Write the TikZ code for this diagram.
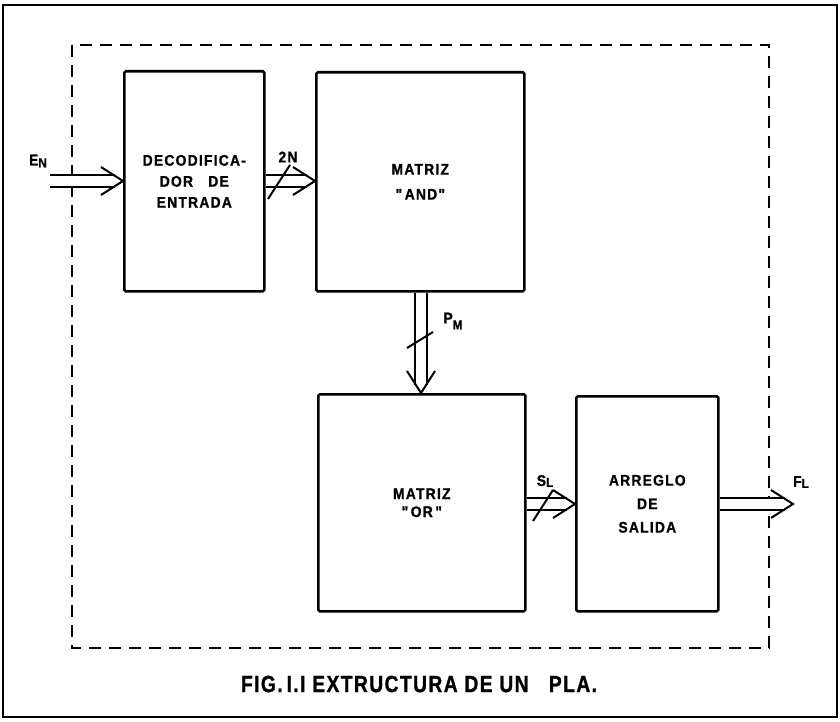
\documentclass[tikz,border=0pt]{standalone}
\usepackage{fontspec}
\setmainfont{Liberation Sans}
\newfontfamily\lblfam{Liberation Sans Bold}[LetterSpace=8,FakeStretch=0.9,FakeBold=1]
\newfontfamily\capfam{Liberation Sans Bold}[LetterSpace=6,FakeStretch=0.82,FakeBold=1]
\usetikzlibrary{calc}
\begin{document}
\begin{tikzpicture}[x=1pt,y=-1pt,
  blk/.style={draw, line width=2.6pt, rounded corners=1.5pt, align=center,
    inner sep=0pt, anchor=north west, font=\lblfam\fontsize{15.4}{21}\selectfont},
  bus/.style={double, double distance=9.6pt, line width=2pt, shorten >=8pt},
  tip/.style={line width=2pt, line join=miter},
  slash/.style={line width=2pt},
  tag/.style={font=\lblfam\fontsize{15.4}{16}\selectfont, inner sep=0pt}]
\useasboundingbox (0,0) rectangle (840,722);
% frames
\draw[line width=2.2pt] (3,5) rectangle (837,717);
\draw[line width=2.2pt, dash pattern=on 12pt off 8pt] (72,45) rectangle (769,648);
% blocks
\node[blk, minimum width=140, minimum height=220] (dec) at (123,70)
  {DECODIFICA-\\DOR\ \ \ DE\\ENTRADA};
\node[blk, minimum width=208, minimum height=219, font=\lblfam\fontsize{15.4}{25}\selectfont] (and) at (315,71)
  {MATRIZ\\{"}\,AND{"}};
\node[blk, minimum width=207, minimum height=217, font=\lblfam\fontsize{15.4}{18}\selectfont] (or) at (317,393)
  {MATRIZ\\{"}\,OR\,{"}};
\node[blk, minimum width=142, minimum height=215, font=\lblfam\fontsize{15.4}{23.5}\selectfont] (arr) at (575,395)
  {ARREGLO\\DE\\SALIDA};
% free ends
\coordinate (ein) at (50,181);
\coordinate (fout) at (793,504);
\coordinate (pmx) at (421,0);
% buses
\draw[bus] (ein) -- (dec.west |- ein);
\draw[bus] (dec.east |- ein) -- (and.west |- ein);
\draw[bus] (and.south -| pmx) -- (or.north -| pmx);
\draw[bus] (or.east |- fout) -- (arr.west |- fout);
\draw[bus] (arr.east |- fout) -- (fout);
% arrow heads
\draw[tip] ($(dec.west |- ein)+(-22,-14)$) -- (dec.west |- ein) -- ($(dec.west |- ein)+(-22,14)$);
\draw[tip] ($(and.west |- ein)+(-22,-14)$) -- (and.west |- ein) -- ($(and.west |- ein)+(-22,14)$);
\draw[tip] ($(or.north -| pmx)+(-14,-22)$) -- (or.north -| pmx) -- ($(or.north -| pmx)+(14,-22)$);
\draw[tip] ($(arr.west |- fout)+(-22,-14)$) -- (arr.west |- fout) -- ($(arr.west |- fout)+(-22,14)$);
\draw[tip] ($(fout)+(-22,-14)$) -- (fout) -- ($(fout)+(-22,14)$);
% slashes
\draw[slash] (268,199) -- (290,165);
\draw[slash] (407,348) -- (433,332);
\draw[slash] (533,521) -- (553,490);
% labels
\node[tag] (en) at (38,161) {E\raisebox{-2pt}{\fontsize{13}{13}\selectfont N}};
\node[tag] (tn) at (288,157) {2N};
\node[tag] (pm) at (453,321) {P\raisebox{-6pt}{\fontsize{13}{13}\selectfont M}};
\node[tag] (sl) at (545,481) {S\raisebox{-1pt}{\fontsize{13}{13}\selectfont L}};
\node[tag] (fl) at (801,482) {F\raisebox{-1pt}{\fontsize{13}{13}\selectfont L}};
% caption
\node[font=\capfam\fontsize{23.5}{26}\selectfont, inner sep=0pt] (cap) at (419,684)
  {FIG.\,I.I EXTRUCTURA DE UN\ \ \ PLA.};
\end{tikzpicture}
\end{document}
